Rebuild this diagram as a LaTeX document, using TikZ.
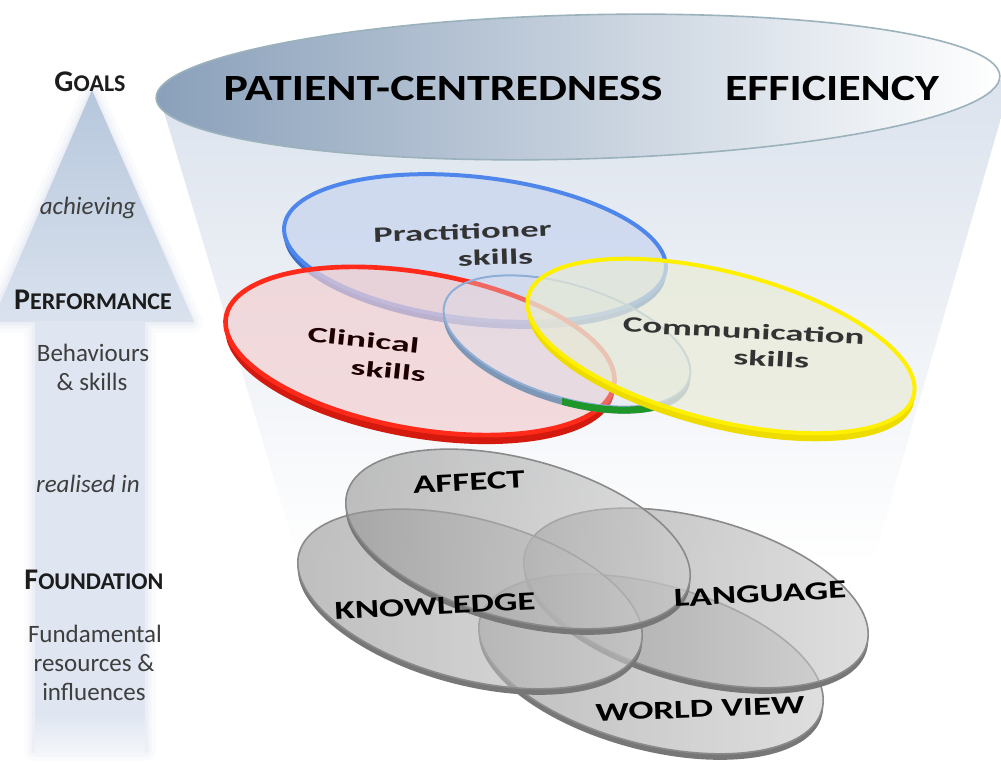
\documentclass[tikz,border=0pt]{standalone}
\usepackage{fontspec}
\setmainfont{Carlito}
\definecolor{arrowtop}{HTML}{B6C7DC}
\definecolor{arrowbot}{HTML}{DAE2EE}
\definecolor{shaft}{HTML}{DFE6F1}
\definecolor{funnelTop}{HTML}{DCE3ED}
\definecolor{funnelMid}{HTML}{E8EDF3}
\definecolor{ellL}{HTML}{8AA0BA}
\definecolor{ellM}{HTML}{ECF0F5}
\definecolor{ellEdge}{HTML}{9BB2BC}
\definecolor{blueRing}{HTML}{4F86EC}
\definecolor{blueRim}{HTML}{3C6CCB}
\definecolor{blueFace}{HTML}{C8D5EF}
\definecolor{redRing}{HTML}{FF2A1A}
\definecolor{redRim}{HTML}{D41A0E}
\definecolor{redFace}{HTML}{F2CFD1}
\definecolor{steelRing}{HTML}{8EAED6}
\definecolor{steelRim}{HTML}{7E97B6}
\definecolor{steelFace}{HTML}{D5DCEA}
\definecolor{yelRing}{HTML}{FFF000}
\definecolor{yelRim}{HTML}{EEDC00}
\definecolor{yelFace}{HTML}{E8EBD6}
\definecolor{greenRim}{HTML}{1E962A}
\definecolor{grayRing}{HTML}{8A8A8A}
\definecolor{grayRim}{HTML}{777777}
\definecolor{grayDark}{HTML}{969696}
\definecolor{grayLight}{HTML}{CDCDCD}
\definecolor{txt}{HTML}{1C1C1C}
% disc: #1 cx, #2 cy, #3 a, #4 b, #5 clockwise angle, #6 rim depth, #7 face style, #8 ring style, #9 rim colour
\newcommand\mydisc[9]{%
  \begin{scope}
    \clip[rotate around={-#5:(#1,#2+#6)}] (#1,#2+#6) ellipse [x radius=#3, y radius=#4];
    \fill[#9, even odd rule, rotate around={-#5:(#1,#2)}] (#1-500,#2-300) rectangle (#1+500,#2+300)
      (#1,#2) ellipse [x radius=#3, y radius=#4];
  \end{scope}
  \path[rotate around={-#5:(#1,#2)}, #7] (#1,#2) ellipse [x radius=#3, y radius=#4];
  \draw[rotate around={-#5:(#1,#2)}, #8] (#1,#2) ellipse [x radius=#3, y radius=#4];
}
\newcommand\mysc[2]{#1{\fontsize{18}{18}\selectfont #2}}
\tikzset{
  lefthead/.style={font=\fontsize{22.5}{24}\selectfont\bfseries, text=txt, inner sep=0pt},
  leftnote/.style={font=\fontsize{18.75}{22}\selectfont, text=txt!85, inner sep=0pt},
  leftital/.style={font=\fontsize{18.75}{22}\selectfont\itshape, text=txt!85, inner sep=0pt},
  goaltext/.style={font=\fontsize{27.75}{30}\selectfont\bfseries, text=black, inner sep=0pt},
  skilltext/.style={font=\fontsize{20}{20}\selectfont\bfseries, text=txt!90, inner sep=0pt, align=center},
  foundtext/.style={font=\fontsize{19.5}{20}\selectfont\bfseries, text=black, inner sep=0pt},
}
\begin{document}
\begin{tikzpicture}[x=0.75pt,y=-0.75pt]
\useasboundingbox (0,0) rectangle (1001,773);
\fill[white] (0,0) rectangle (1001,773);

% ---------- big arrow ----------
\foreach \w/\o in {16/0.12,10/0.18,5/0.3}{
  \draw[arrowbot, line width=\w, opacity=\o, line join=round]
    (92,92) -- (192,322) -- (145,322) -- (145,750) -- (35,750) -- (35,322) -- (-8,322) -- cycle;
}
\shade[top color=arrowtop, bottom color=arrowbot] (92,90) -- (194,322) -- (-8,322) -- cycle;
\fill[shaft] (35,321) rectangle (145,715);
\shade[top color=shaft, bottom color=shaft!30!white] (35,714) rectangle (145,757);

% ---------- funnel ----------
\shade[top color=funnelTop, middle color=funnelMid, bottom color=white]
  (158,92) -- (1001,80) -- (1001,118) -- (872,565) -- (300,565) -- cycle;

% ---------- top ellipse ----------
\shade[rotate around={1.5:(578,87)}, left color=ellL, middle color=ellM, right color=white, draw=ellEdge, line width=1.2]
  (578,87) ellipse [x radius=422, y radius=72];
\node[goaltext] (pc) at (443,88) {\scalebox{1.24}[1]{PATIENT-CENTREDNESS}};
\node[goaltext] (eff) at (832,88) {\scalebox{1.24}[1]{EFFICIENCY}};

% ---------- performance discs ----------
\mydisc{475}{248}{192}{71}{6.5}{7}{fill=blueFace, fill opacity=0.75}{blueRing, line width=3}{blueRim}
\mydisc{420}{351}{197}{78}{10}{9}{fill=redFace, fill opacity=0.7}{redRing, line width=3.5}{redRim}
\mydisc{567}{341}{128}{56}{17.3}{7}{fill=steelFace, fill opacity=0.35}{steelRing, line width=1.5}{steelRim}
\begin{scope}
  \clip (562,330) rectangle (656,430);
  \clip[rotate around={-17.3:(567,348)}] (567,348) ellipse [x radius=128, y radius=56];
  \fill[greenRim, even odd rule, rotate around={-17.3:(567,341)}] (67,41) rectangle (1067,641)
    (567,341) ellipse [x radius=128, y radius=56];
\end{scope}
\mydisc{721}{346}{199}{74}{14.5}{8}{fill=yelFace, fill opacity=0.7}{yelRing, line width=3}{yelRim}

\node[skilltext, rotate=2] (prac) at (463,245)
  {\scalebox{1.37}[0.82]{Practitioner}\\\hspace*{48pt}\scalebox{1.4}[0.82]{skills}};
\node[skilltext, rotate=-6, text=black!80!red!60!black] (clin) at (362,354)
  {\scalebox{1.42}[0.82]{Clinical}\\[1pt]\hspace*{42pt}\scalebox{1.4}[0.82]{skills}};
\node[skilltext, rotate=-3] (comm) at (743,344)
  {\scalebox{1.38}[0.82]{Communication}\\\hspace*{43.5pt}\scalebox{1.41}[0.82]{skills}};

% ---------- foundation discs ----------
\mydisc{651}{664}{177}{80}{15}{6}{left color=grayDark, right color=grayLight, fill opacity=0.62}{grayRing, line width=1.2}{grayRim}
\mydisc{696}{598}{177}{80}{15}{6}{left color=grayDark, right color=grayLight, fill opacity=0.62}{grayRing, line width=1.2}{grayRim}
\mydisc{470}{599}{177}{80}{15}{6}{left color=grayDark, right color=grayLight, fill opacity=0.62}{grayRing, line width=1.2}{grayRim}
\mydisc{518}{539}{177}{80}{15}{6}{left color=grayDark, right color=grayLight, fill opacity=0.62}{grayRing, line width=1.2}{grayRim}

\node[foundtext, rotate=3] (aff) at (469,482) {\scalebox{1.42}[1]{AFFECT}};
\node[foundtext, rotate=3] (know) at (435,606) {\scalebox{1.42}[1]{KNOWLEDGE}};
\node[foundtext, rotate=3] (lang) at (760,594) {\scalebox{1.42}[1]{LANGUAGE}};
\node[foundtext, rotate=2] (world) at (700,709) {\scalebox{1.42}[1]{WORLD VIEW}};

% ---------- left column ----------
\node[lefthead] (goals) at (90,82) {\mysc{G}{OALS}};
\node[leftital] (ach) at (88,208) {achieving};
\node[lefthead] (perf) at (93,300) {\mysc{P}{ERFORMANCE}};
\node[leftnote] (beh1) at (93,353) {Behaviours};
\node[leftnote] (beh2) at (92,382) {\& skills};
\node[leftital] (real) at (88,484) {realised in};
\node[lefthead] (found) at (94,580) {\mysc{F}{OUNDATION}};
\node[leftnote] (fund1) at (95,634) {Fundamental};
\node[leftnote] (fund2) at (94,663) {resources \&};
\node[leftnote] (fund3) at (94,692) {influences};
\end{tikzpicture}
\end{document}
